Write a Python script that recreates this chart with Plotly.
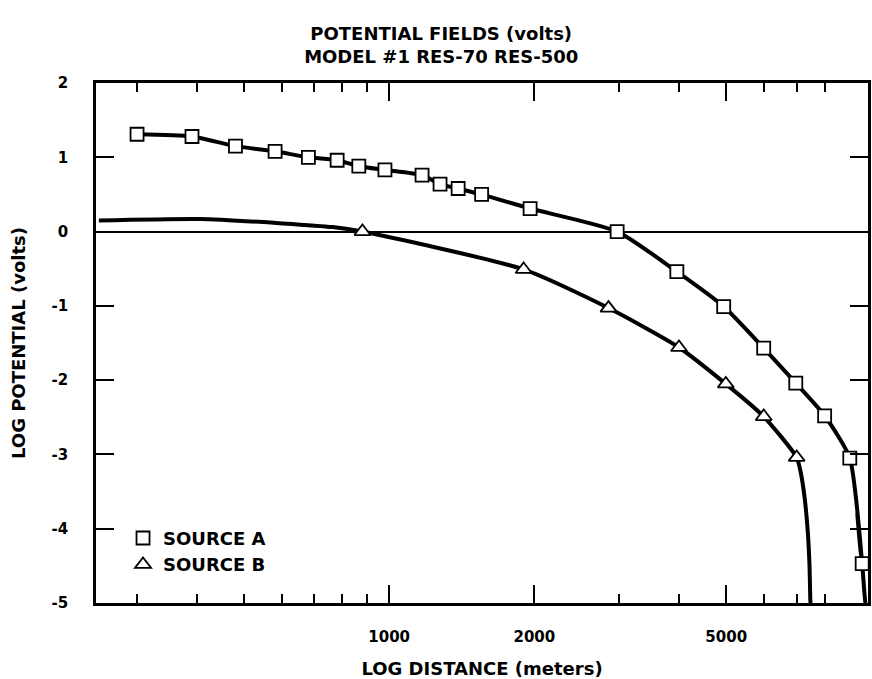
import plotly.graph_objects as go

# Source A: plotted marker readings (distance in meters, log potential in volts)
a_dist = [300, 390, 480, 580, 680, 780, 865, 980, 1170, 1275, 1390, 1555,
          1960, 2970, 3950, 4940, 5980, 6970, 8000, 9020, 9570]
a_pot = [1.31, 1.28, 1.15, 1.08, 1.00, 0.96, 0.88, 0.83, 0.76, 0.64, 0.58,
         0.50, 0.31, 0.00, -0.54, -1.01, -1.57, -2.04, -2.48, -3.05, -4.47]

# Source A: fitted curve drop-off beyond the last stations
a_tail_dist = [9135, 9354, 9486, 9570, 9672, 9718]
a_tail_pot = [-3.36, -3.82, -4.27, -4.47, -4.86, -5.0]

# Source B: plotted marker readings
b_dist = [880, 1900, 2850, 3990, 4990, 5980, 7000]
b_pot = [0.0, -0.51, -1.03, -1.56, -2.05, -2.49, -3.04]

# Source B: fitted curve near field and drop-off
b_head_dist = [250, 405, 601, 763]
b_head_pot = [0.15, 0.17, 0.11, 0.06]
b_tail_dist = [7130, 7273, 7382, 7443, 7470, 7480]
b_tail_pot = [-3.23, -3.59, -4.05, -4.5, -4.95, -5.0]

x_major = [1000, 2000, 5000]
x_minor = [300, 400, 500, 600, 700, 800, 900, 3000, 4000, 6000, 7000, 8000]
y_ticks = [2, 1, 0, -1, -2, -3, -4, -5]

FONT = "DejaVu Sans"

fig = go.Figure()

# smooth fitted curves
fig.add_trace(go.Scatter(
    x=a_dist + a_tail_dist[1:], y=a_pot + a_tail_pot[1:],
    mode="lines", line=dict(color="black", width=4, shape="spline", smoothing=0.6),
    showlegend=False, hoverinfo="skip"))
fig.add_trace(go.Scatter(
    x=b_head_dist + b_dist + b_tail_dist, y=b_head_pot + b_pot + b_tail_pot,
    mode="lines", line=dict(color="black", width=4, shape="spline", smoothing=0.6),
    showlegend=False, hoverinfo="skip"))

# station markers
fig.add_trace(go.Scatter(
    x=a_dist, y=a_pot, mode="markers", name="SOURCE A",
    marker=dict(symbol="square", size=13, color="white",
                line=dict(color="black", width=1.8))))
fig.add_trace(go.Scatter(
    x=b_dist, y=b_pot, mode="markers", name="SOURCE B",
    marker=dict(symbol="triangle-up", size=14, color="white",
                line=dict(color="black", width=1.8))))

fig.update_layout(
    width=872, height=679,
    margin=dict(l=96, r=1, t=83, b=76),
    paper_bgcolor="white", plot_bgcolor="white",
    font=dict(family=FONT, size=15, color="black", weight="bold"),
    title=dict(
        text="POTENTIAL FIELDS (volts)<br>MODEL #1 RES-70 RES-500",
        x=0.506, xanchor="center", y=0.941, yanchor="middle",
        font=dict(family=FONT, size=18, weight="bold")),
    legend=dict(
        x=0.035, y=0.16, xanchor="left", yanchor="top",
        bgcolor="rgba(0,0,0,0)", font=dict(size=18, weight="bold"),
        itemwidth=30, tracegroupgap=0),
    xaxis=dict(
        type="log", range=[2.392, 3.993],
        showline=True, linecolor="black", linewidth=2.5, mirror="ticks",
        showgrid=False, zeroline=False,
        tickmode="array", tickvals=x_major, ticktext=[str(v) for v in x_major],
        ticks="inside", ticklen=18, tickwidth=2, tickcolor="black",
        ticklabelstandoff=18,
        minor=dict(tickmode="array", tickvals=x_minor, ticks="inside",
                   ticklen=9, tickwidth=2, tickcolor="black", showgrid=False),
        title=dict(text="LOG DISTANCE (meters)", standoff=18,
                   font=dict(size=18, weight="bold"))),
    yaxis=dict(
        range=[-5, 2],
        showline=True, linecolor="black", linewidth=2.5, mirror="ticks",
        showgrid=False,
        zeroline=True, zerolinecolor="black", zerolinewidth=2,
        tickmode="array", tickvals=y_ticks, ticktext=[str(v) for v in y_ticks],
        ticks="inside", ticklen=18, tickwidth=2, tickcolor="black",
        ticklabelstandoff=22,
        title=dict(text="LOG POTENTIAL (volts)", standoff=22,
                   font=dict(size=18, weight="bold"))),
)

fig.write_html("out.html")
